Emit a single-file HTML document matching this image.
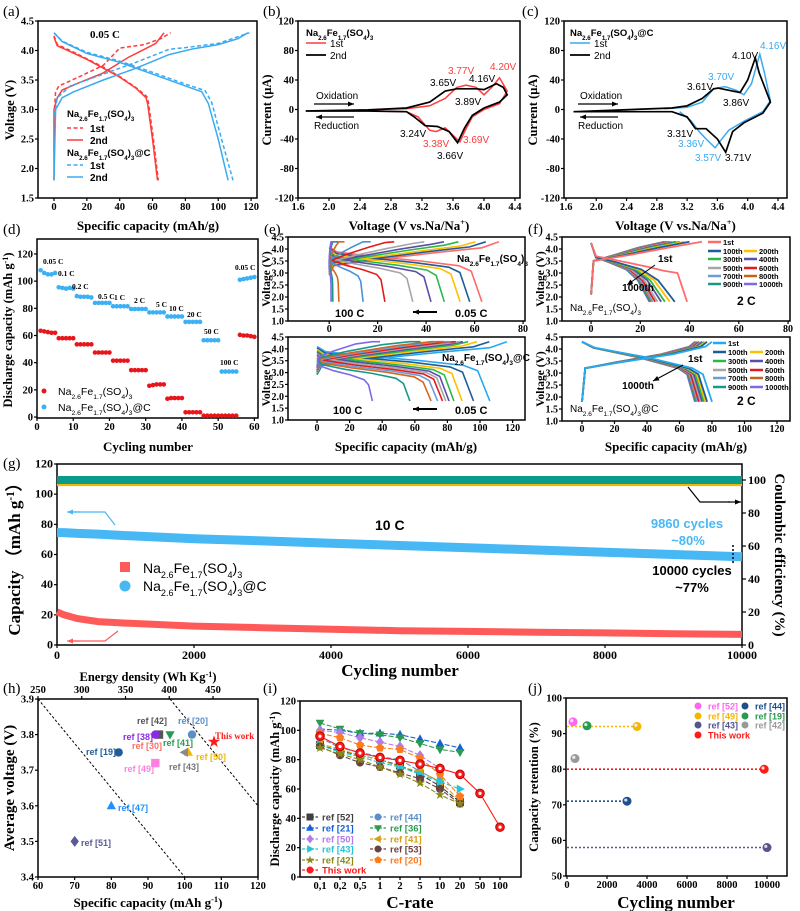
<!DOCTYPE html>
<html><head><meta charset="utf-8"><title>Na2.6Fe1.7(SO4)3 electrochemistry figure</title>
<style>
html,body{margin:0;padding:0;background:#fff;}
svg{display:block;}
text{font-family:"Liberation Serif",serif;}
.s{font-family:"Liberation Sans",sans-serif;}
</style></head>
<body>
<svg id="fig" width="800" height="911" viewBox="0 0 800 911" xmlns="http://www.w3.org/2000/svg"></svg>
<script>
// ---------------- DATA ----------------
const aRedCh1=[[0,2.9],[1,3.3],[3,3.4],[15,3.55],[30,3.75],[40,4.04],[55,4.1],[65,4.2],[71,4.3]];
const aRedCh2=[[0,1.8],[0,3.0],[2,3.2],[5,3.33],[15,3.45],[30,3.62],[45,3.88],[55,4.02],[62,4.12],[67,4.3]];
const aRedDis1=[[0,4.25],[2,4.1],[10,4.0],[20,3.86],[30,3.72],[40,3.56],[50,3.37],[56.5,3.22],[57.5,3.12],[60.5,2.5],[63.5,1.8]];
const aRedDis2=[[0,4.22],[2,4.08],[10,3.98],[20,3.85],[30,3.7],[40,3.55],[50,3.36],[56,3.2],[57,3.1],[60,2.5],[63,1.8]];
const aBlueCh1=[[0,2.9],[2,3.2],[10,3.4],[30,3.6],[50,3.8],[70,4.02],[80,4.05],[100,4.12],[119,4.3]];
const aBlueCh2=[[0,1.8],[1,3.0],[5,3.2],[12,3.3],[30,3.5],[50,3.7],[70,3.93],[85,4.03],[100,4.1],[112,4.2],[118,4.3]];
const aBlueDis1=[[0,4.3],[5,4.16],[20,3.97],[40,3.82],[60,3.63],[80,3.43],[92,3.32],[96,3.12],[102,2.5],[109,1.8]];
const aBlueDis2=[[0,4.3],[5,4.15],[20,3.95],[40,3.8],[60,3.6],[80,3.4],[90,3.3],[94,3.1],[100,2.5],[106,1.8]];
const bCycle2=[[1.7,-2],[2.5,-0.5],[3.0,2],[3.3,10],[3.5,25],[3.65,28],[3.9,28],[4.0,27],[4.16,35],[4.25,30],[4.3,20],[4.2,10],[4.0,2],[3.85,-8],[3.75,-25],[3.66,-45],[3.55,-30],[3.4,-23],[3.24,-22],[3.1,-10],[3.0,-3],[2.5,-2],[1.7,-2]];
const bCycle1=[[2.6,0],[3.0,1],[3.3,5],[3.5,15],[3.65,30],[3.77,33],[3.9,30],[4.0,20],[4.1,30],[4.2,43],[4.3,25],[4.2,8],[4.0,0],[3.85,-10],[3.75,-30],[3.69,-44],[3.6,-35],[3.5,-25],[3.38,-30],[3.3,-28],[3.15,-10],[3.0,-3],[2.6,-2]];
const cCycle1=[[2.9,1],[3.2,3],[3.4,10],[3.55,28],[3.7,31],[3.85,26],[3.95,20],[4.05,35],[4.16,75],[4.22,50],[4.3,12],[4.2,-3],[3.95,-16],[3.75,-28],[3.62,-45],[3.57,-52],[3.45,-40],[3.36,-30],[3.25,-15],[3.1,-3]];
const cCycle2=[[1.7,-3],[3.0,2],[3.2,5],[3.4,15],[3.55,28],[3.61,29],[3.8,25],[3.9,23],[4.0,40],[4.1,70],[4.15,50],[4.3,10],[4.2,-5],[3.95,-18],[3.8,-30],[3.71,-58],[3.6,-40],[3.45,-26],[3.31,-26],[3.2,-10],[3.0,-3],[1.7,-3]];
const dCycles=[1,2,3,4,5,6,7,8,9,10,11,12,13,14,15,16,17,18,19,20,21,22,23,24,25,26,27,28,29,30,31,32,33,34,35,36,37,38,39,40,41,42,43,44,45,46,47,48,49,50,51,52,53,54,55,56,57,58,59,60];
const dBlue=[108,106,105,105,106,95.5,95,94.5,95,94.5,89,88.5,88.5,88.5,88,84,84,84,84,84,81.5,81.5,81.5,81.5,81.5,79.5,79.5,79.5,79.5,79.5,77,77,77,77,77,74,74,74,74,74,70,70,70,70,70,56.5,56.5,56.5,56.5,56.5,33.5,33.5,33.5,33.5,33.5,101,101.5,102,102.5,103];
const dRed=[63.5,63,62.5,62,62,58,58,58,58,58,53.5,53.5,53.5,53.5,53.5,47.5,47.5,47.5,47.5,47.5,41.5,41.5,41.5,41.5,41.5,34.5,34.5,34.5,34.5,34.5,23,23.5,24,24,24,13.5,14,14,14,14,3.5,3.5,3.5,3.5,3.5,1,1,1,1,1,1,1,1,1,1,60.5,60,60,59.5,59];
const dRateLabels=['0.05 C','0.1 C','0.2 C','0.5 C','1 C','2 C','5 C','10 C','20  C','50  C','100  C','0.05 C'];
const eTopCap=[63,58,54,47.5,42,34.5,23,14,4,1.5,0.8];
const eBotCap=[106,96,89,84,81,79,77,74,70,57,34];
const fLabels=['1st','100th','200th','300th','400th','500th','600th','700th','800th','900th','1000th'];
const fTopCap=[39,34,32,30,28.5,27,26,25,24.5,24,23.7];
const fBotCap=[80,77,76,75,74,73,72,71,70.5,70,69.5];
const gCycles=[0,100,300,600,1000,2000,3000,4000,5000,6000,7000,8000,9000,10000];
const gBlue=[74.5,74.5,74,73.5,72.5,70.5,69,67.5,66,64.5,63,61.5,60,58.5];
const gRed=[22,20,17.5,15.5,14.5,12.5,11.5,10.5,9.5,9,8.5,8,7.5,7];
const gCE=[100,100,100,100,100,100,100,100,100,100,100,100,100,100];
const gCE2=[97.5,97.5,97.5,97.5,97.5,97.5,97.5,97.5,97.5,97.5,97.5,97.5,97.5,97.5];
const hRefs=['ref [42]','ref [38]','ref [20]','ref [41]','This work','ref [19]','ref [50]','ref [43]','ref [49]','ref [47]','ref [51]'];
const hCap=[93,92,102,96,108,82,101,100,92,80,70];
const hVolt=[3.8,3.8,3.8,3.8,3.78,3.75,3.75,3.75,3.72,3.6,3.5];
const iRates=['0.1','0.2','0.5','1','2','5','10','20','50','100'];
const iNames=['ref [52]','ref [44]','ref [21]','ref [36]','ref [50]','ref [41]','ref [43]','ref [53]','ref [42]','ref [20]','This work'];
const iVals=[
 [90,86,83,80,76,70,62,51],
 [95,88,85,82,80,72,65],
 [101,100,98,98,97,94,91,88],
 [105,101,98,97,95,91,87,85],
 [100,98.5,95,92,89,83,74],
 [91,87,83,80,75,72,65,52],
 [90,85,82,78,75,70,65,60],
 [89,83,78,75,71,67,60,50],
 [88,84,80,75,70,64,56,50],
 [98,95,90,88,87,81,70,55],
 [96,89,84.5,81.5,79.5,77,74,70,57,34]
];
const jNames=['ref [52]','ref [44]','ref [49]','ref [19]','ref [43]','ref [42]','This work'];
const jCycles=[300,3000,3500,1000,10000,400,9860];
const jRet=[93.3,71,92,92.2,58,83,80];

// ---------------- HELPERS ----------------
const NS='http://www.w3.org/2000/svg';
const svg=document.getElementById('fig');
function mk(tag,name,attrs,parent){
  const e=document.createElementNS(NS,tag);
  for(const k in attrs) e.setAttribute(k,attrs[k]);
  
  
  (parent||svg).appendChild(e);
  return e;
}
function txt(name,x,y,str,o){
  o=o||{};
  const t=mk('text',name,{x:x,y:y,'font-size':o.size||11,'font-weight':o.weight||'normal',fill:o.fill||'#000','text-anchor':o.anchor||'start'},o.parent);
  if(o.sans) t.setAttribute('class','s');
  if(o.rot) t.setAttribute('transform','rotate('+o.rot+' '+x+' '+y+')');
  const re=/_\{([^}]*)\}|\^\{([^}]*)\}/g; let last=0,m;
  while((m=re.exec(str))){
    if(m.index>last){const s=document.createElementNS(NS,'tspan');s.textContent=str.slice(last,m.index);t.appendChild(s);}
    const s=document.createElementNS(NS,'tspan');
    s.textContent=m[1]!==undefined?m[1]:m[2];
    s.setAttribute('font-size',(o.size||11)*0.65);
    s.setAttribute('baseline-shift',m[1]!==undefined?'sub':'super');
    t.appendChild(s); last=re.lastIndex;
  }
  if(last<str.length){const s=document.createElementNS(NS,'tspan');s.textContent=str.slice(last);t.appendChild(s);}
  return t;
}
function lin(d0,d1,p0,p1){return v=>p0+(v-d0)*(p1-p0)/(d1-d0);}
function axes(o){
  const g=mk('g',o.name,{});
  const sx=o.sx||lin(o.xd[0],o.xd[1],o.x0,o.x1);
  const sy=lin(o.yd[0],o.yd[1],o.y1,o.y0);
  mk('rect',o.name+'-frame',{x:o.x0,y:o.y0,width:o.x1-o.x0,height:o.y1-o.y0,fill:'none',stroke:'#000','stroke-width':1.5},g);
  (o.xt||[]).forEach((v,i)=>{const X=sx(v);
    mk('line','x-tick',{x1:X,x2:X,y1:o.y1,y2:o.y1+3,stroke:'#000','stroke-width':1.2},g);
    if(o.xl!==false) txt('x-tick-label',X,o.y1+(o.xly||12),o.xf?o.xf(v,i):String(v),{anchor:'middle',weight:'bold',size:o.tsz||10.5,parent:g});});
  (o.yt||[]).forEach(v=>{const Y=sy(v);
    mk('line','y-tick',{x1:o.x0-3,x2:o.x0,y1:Y,y2:Y,stroke:'#000','stroke-width':1.2},g);
    txt('y-tick-label',o.x0-4,Y+3.5,o.yf?o.yf(v):String(v),{anchor:'end',weight:'bold',size:o.tsz||10.5,parent:g});});
  return {sx,sy,g};
}
function path(name,pts,sx,sy,attrs,parent){
  const d=pts.map((p,i)=>(i?'L':'M')+sx(p[0]).toFixed(1)+' '+sy(p[1]).toFixed(1)).join('');
  const a=Object.assign({d:d,fill:'none'},attrs);
  return mk('path',name,a,parent);
}
function arrowLine(name,x1,y1,x2,y2,col,w){
  const g=mk('g',name,{});
  mk('line','arrow-shaft',{x1:x1,y1:y1,x2:x2,y2:y2,stroke:col,'stroke-width':w||1.2},g);
  const a=Math.atan2(y2-y1,x2-x1),L=6,W=2.5;
  const p=[[x2,y2],[x2-L*Math.cos(a)+W*Math.sin(a),y2-L*Math.sin(a)-W*Math.cos(a)],[x2-L*Math.cos(a)-W*Math.sin(a),y2-L*Math.sin(a)+W*Math.cos(a)]];
  mk('polygon','arrow-head',{points:p.map(q=>q.join(',')).join(' '),fill:col},g);
}
const f1=v=>v.toFixed(1);
const RED='#ff3b3b', BLUE='#3aaaf0';
const NFS='Na_{2.6}Fe_{1.7}(SO_{4})_{3}', NFSC='Na_{2.6}Fe_{1.7}(SO_{4})_{3}@C';

[['a',3,16],['b',263,16],['c',522,16],['d',3,234],['e',264,234],['f',528,234],['g',3,468],['h',3,693],['i',263,693],['j',528,693]].forEach(p=>txt('panel-label-'+p[0],p[1],p[2],'('+p[0]+')',{size:15}));

// ---------------- (a) ----------------
{const A=axes({name:'panel-a',x0:38,x1:257,y0:21,y1:198,xd:[-9.74,123.6],yd:[1.5,4.5],xt:[0,20,40,60,80,100,120],yt:[1.5,2,2.5,3,3.5,4,4.5],yf:f1});
 const s={stroke:RED,'stroke-width':1.5}, sd={stroke:RED,'stroke-width':1.5,'stroke-dasharray':'4,2.5'};
 const b={stroke:BLUE,'stroke-width':1.5}, bd={stroke:BLUE,'stroke-width':1.5,'stroke-dasharray':'4,2.5'};
 path('red-charge-1st',aRedCh1,A.sx,A.sy,sd,A.g); path('red-discharge-1st',aRedDis1,A.sx,A.sy,sd,A.g);
 path('red-charge-2nd',aRedCh2,A.sx,A.sy,s,A.g); path('red-discharge-2nd',aRedDis2,A.sx,A.sy,s,A.g);
 path('blue-charge-1st',aBlueCh1,A.sx,A.sy,bd,A.g); path('blue-discharge-1st',aBlueDis1,A.sx,A.sy,bd,A.g);
 path('blue-charge-2nd',aBlueCh2,A.sx,A.sy,b,A.g); path('blue-discharge-2nd',aBlueDis2,A.sx,A.sy,b,A.g);
 txt('rate-label',90,38,'0.05 C',{size:11,weight:'bold'});
 txt('legend-title-pristine',67,117,NFS,{size:9.5,weight:'bold',sans:true});
 mk('line','legend-red-1st',{x1:67,x2:83,y1:128,y2:128,stroke:RED,'stroke-width':1.5,'stroke-dasharray':'4,2.5'});
 txt('legend-text',90,132,'1st',{size:10,weight:'bold',sans:true});
 mk('line','legend-red-2nd',{x1:67,x2:83,y1:140,y2:140,stroke:RED,'stroke-width':1.5});
 txt('legend-text',90,144,'2nd',{size:10,weight:'bold',sans:true});
 txt('legend-title-carbon',67,156,NFSC,{size:9.5,weight:'bold',sans:true});
 mk('line','legend-blue-1st',{x1:67,x2:83,y1:165,y2:165,stroke:BLUE,'stroke-width':1.5,'stroke-dasharray':'4,2.5'});
 txt('legend-text',90,169,'1st',{size:10,weight:'bold',sans:true});
 mk('line','legend-blue-2nd',{x1:67,x2:83,y1:177,y2:177,stroke:BLUE,'stroke-width':1.5});
 txt('legend-text',90,181,'2nd',{size:10,weight:'bold',sans:true});
 txt('y-axis-title',14,110,'Voltage (V)',{size:12.5,weight:'bold',anchor:'middle',rot:-90});
 txt('x-axis-title',148,230,'Specific capacity (mAh/g)',{size:13,weight:'bold',anchor:'middle'});
}
// ---------------- (b),(c) ----------------
function cvPanel(id,x0,x1,xd,c1,c1col,c2,title,labels,ox){
  const B=axes({name:'panel-'+id,x0:x0,x1:x1,y0:21,y1:198,xd:xd,yd:[-120,120],xt:[1.6,2,2.4,2.8,3.2,3.6,4,4.4],xf:v=>v.toFixed(1),yt:[-120,-80,-40,0,40,80,120]});
  path('cv-cycle-1st',c1,B.sx,B.sy,{stroke:c1col,'stroke-width':1.5},B.g);
  path('cv-cycle-2nd',c2,B.sx,B.sy,{stroke:'#000','stroke-width':1.7},B.g);
  txt('legend-title',ox,36,title,{size:9.5,weight:'bold',sans:true});
  mk('line','legend-1st',{x1:ox,x2:ox+20,y1:43,y2:43,stroke:c1col,'stroke-width':1.5});
  txt('legend-text',ox+24,47,'1st',{size:10,sans:true});
  mk('line','legend-2nd',{x1:ox,x2:ox+20,y1:55,y2:55,stroke:'#000','stroke-width':1.7});
  txt('legend-text',ox+24,59,'2nd',{size:10,sans:true});
  txt('oxidation-label',ox+10,99,'Oxidation',{size:10,sans:true});
  arrowLine('oxidation-arrow',ox+8,104,ox+48,104,'#000',1.3);
  arrowLine('reduction-arrow',ox+48,117,ox+10,117,'#000',1.3);
  txt('reduction-label',ox+8,129,'Reduction',{size:10,sans:true});
  labels.forEach(l=>txt('peak-label',l[0],l[1],l[2],{size:10,sans:true,fill:l[3]}));
  txt('y-axis-title',x0-27,110,'Current (μA)',{size:12.5,weight:'bold',anchor:'middle',rot:-90});
  txt('x-axis-title',(x0+x1)/2,230,'Voltage (V vs.Na/Na^{+})',{size:13,weight:'bold',anchor:'middle'});
}
cvPanel('b',298,520,[1.6,4.465],bCycle1,RED,bCycle2,NFS,[[448,74,'3.77V',RED],[490,70,'4.20V',RED],[430,86,'3.65V','#000'],[469,82,'4.16V','#000'],[455,105,'3.89V','#000'],[400,137,'3.24V','#000'],[423,147,'3.38V',RED],[463,143,'3.69V',RED],[437,159,'3.66V','#000']],306);
cvPanel('c',564,787,[1.574,4.519],cCycle1,BLUE,cCycle2,NFSC,[[760,49,'4.16V',BLUE],[732,59,'4.10V','#000'],[708,80,'3.70V',BLUE],[687,90,'3.61V','#000'],[723,106,'3.86V','#000'],[667,137,'3.31V','#000'],[678,147,'3.36V',BLUE],[695,161,'3.57V',BLUE],[725,161,'3.71V','#000']],570);

// ---------------- (d) ----------------
{const D=axes({name:'panel-d',x0:37,x1:258,y0:239,y1:418,xd:[0,61],yd:[-0.7,131],xt:[0,10,20,30,40,50,60],yt:[0,20,40,60,80,100,120]});
 dCycles.forEach((c,i)=>{
  mk('circle','point-pristine',{cx:D.sx(c),cy:D.sy(dRed[i]),r:2.3,fill:'#e8161b'},D.g);
  mk('circle','point-carbon',{cx:D.sx(c),cy:D.sy(dBlue[i]),r:2.3,fill:'#3ab0f5'},D.g);
 });
 const lp=[[43,264],[58,276],[72,289],[98,299],[114,300],[134,303],[156,307],[169,311],[187,317],[204,334],[220,365],[235,270]];
 dRateLabels.forEach((l,i)=>txt('rate-label',lp[i][0],lp[i][1],l,{size:7.5,weight:'bold'}));
 mk('circle','legend-marker-pristine',{cx:44,cy:391,r:2.5,fill:'#e8161b'});
 txt('legend-text',58,395,NFS,{size:10.5,sans:true});
 mk('circle','legend-marker-carbon',{cx:44,cy:407,r:2.5,fill:'#3ab0f5'});
 txt('legend-text',58,411,NFSC,{size:10.5,sans:true});
 txt('y-axis-title',12,330,'Discharge capacity (mAh g^{-1})',{size:12.5,weight:'bold',anchor:'middle',rot:-90});
 txt('x-axis-title',148,451,'Cycling number',{size:13,weight:'bold',anchor:'middle'});
}
// ---------------- (e) ----------------
const eCols=['#ff6b6b','#1f5c99','#ffc000','#2bb84a','#5a4fa6','#a6a6a6','#e31a1c','#4a8fd8','#d2691e','#16998a','#7e6ae6'];
const eColsB=['#27a9f0','#1f5c99','#ffc000','#2bb84a','#5a4fa6','#a6a6a6','#e31a1c','#6f9ad8','#d2691e','#16998a','#7e6ae6'];
const disT=[[0,0.3],[0.05,0.08],[0.3,-0.12],[0.6,-0.3],[0.85,-0.5],[0.93,-0.72],[1,-2]];
const chT=[[0,-0.9],[0.03,-0.5],[0.3,-0.25],[0.7,0.05],[1,0.25],[1.08,0.5]];
function ePanel(name,x0,x1,y0,y1,xd,xt,caps,cols,tlabel,tlx,tly){
  const E=axes({name:name,x0:x0,x1:x1,y0:y0,y1:y1,xd:xd,yd:[1,4.5],xt:xt,yt:[1,1.5,2,2.5,3,3.5,4,4.5],yf:f1,xly:11,tsz:10});
  caps.forEach((c,k)=>{const pol=k*0.06;
    path('discharge-curve',disT.map(p=>[p[0]*c,Math.max(1.8,3.8+p[1]-pol)]),E.sx,E.sy,{stroke:cols[k],'stroke-width':1.6},E.g);
    path('charge-curve',chT.map(p=>[p[0]*c+(p[0]>1?2:0),Math.min(4.3,3.8+p[1]+pol*0.6)]),E.sx,E.sy,{stroke:cols[k],'stroke-width':1.6},E.g);
  });
  txt('material-label',tlx,tly,tlabel,{size:10,weight:'bold',sans:true});
  txt('y-axis-title',x0-18,(y0+y1)/2,'Voltage (V)',{size:11.5,weight:'bold',anchor:'middle',rot:-90});
  return E;
}
ePanel('panel-e-top',288,525,237,321,[-17,80.8],[0,20,40,60,80],eTopCap,eCols,NFS,457,262);
txt('rate-label',335,317,'100 C',{size:11,weight:'bold',sans:true});txt('rate-label',455,317,'0.05 C',{size:11,weight:'bold',sans:true});
arrowLine('rate-arrow',437,312,413,312,'#000',2);
ePanel('panel-e-bottom',288,525,337,420,[-17.8,127.6],[0,20,40,60,80,100,120],eBotCap,eColsB,NFSC,442,361);
txt('rate-label',333,414,'100 C',{size:11,weight:'bold',sans:true});txt('rate-label',455,414,'0.05 C',{size:11,weight:'bold',sans:true});
arrowLine('rate-arrow',437,409,413,409,'#000',2);
txt('x-axis-title',406,451,'Specific capacity (mAh/g)',{size:13,weight:'bold',anchor:'middle'});
txt('x-axis-title',676,451,'Specific capacity (mAh/g)',{size:13,weight:'bold',anchor:'middle'});

// ---------------- (f) ----------------
const fColsT=['#ff6b6b','#1f5c99','#ffc000','#2bb84a','#5a4fa6','#a6a6a6','#e31a1c','#6f9ad8','#c0651a','#16998a','#7e6ae6'];
const fColsB=['#27a9f0','#1f5c99','#ffc000','#2bb84a','#5a4fa6','#a6a6a6','#e31a1c','#6f9ad8','#c0651a','#16998a','#7e6ae6'];
function fPanel(name,x0,x1,y0,y1,xd,xt,caps,cols,top){
  const F=axes({name:name,x0:x0,x1:x1,y0:y0,y1:y1,xd:xd,yd:[1,4.5],xt:xt,yt:[1,1.5,2,2.5,3,3.5,4,4.5],yf:f1,xly:11,tsz:10});
  caps.slice().reverse().forEach((c,kk)=>{const k=caps.length-1-kk;
    let dis,ch;
    if(top){
      dis=k===0?[[0,4.25],[2,3.7],[c*0.3,3.5],[c*0.6,3.25],[c*0.75,3.1],[c*0.9,3.0],[c,1.8]]:[[0,4.25],[2,3.65],[c*0.3,3.45],[c*0.6,3.15],[c*0.8,2.7],[c,1.8]];
      ch=[[0,2.1],[1,3.5],[c*0.4,3.75],[c*0.8,4.05],[c+6,4.3]];
    }else{
      dis=[[0,4.3],[c*0.1,4.05],[c*0.5,3.65],[c*0.85,3.2],[c*0.93,2.95],[c,1.8]];
      ch=[[0,1.8],[2,3.2],[c*0.3,3.45],[c*0.7,3.78],[c*0.95,4.1],[c,4.3]];
    }
    path('discharge-curve',dis,F.sx,F.sy,{stroke:cols[k],'stroke-width':1.8},F.g);
    path('charge-curve',ch,F.sx,F.sy,{stroke:cols[k],'stroke-width':1.8},F.g);
  });
  txt('y-axis-title',x0-18,(y0+y1)/2,'Voltage (V)',{size:11.5,weight:'bold',anchor:'middle',rot:-90});
  return F;
}
fPanel('panel-f-top',562,790,237,321,[-11.8,80.8],[0,20,40,60,80],fTopCap,fColsT,true);
fPanel('panel-f-bottom',562,790,337,421,[-12.3,128],[0,20,40,60,80,100,120],fBotCap,fColsB,false);
function fLegend(ys,c1x,c2x,cols){
  fLabels.forEach((l,i)=>{
    const row=i===0?0:Math.ceil(i/2), col=i===0?0:((i-1)%2);
    const x=col?c2x:c1x, y=ys[row];
    mk('line','legend-line',{x1:x,x2:x+13,y1:y,y2:y,stroke:cols[i],'stroke-width':2.5});
    txt('legend-text',x+15,y+3,l,{size:7.5,weight:'bold',sans:true});
  });
}
fLegend([242,251,259,268,276,284],708,744,fColsT);
fLegend([343,352,361,370,378,387],713,750,fColsB);
txt('cycle-label',658,262,'1st',{size:10,weight:'bold',sans:true});
txt('cycle-label',638,291,'1000th',{size:10,weight:'bold',sans:true,anchor:'middle'});
arrowLine('cycle-arrow',655,265,627,285,'#000',1);
txt('rate-label',737,305,'2 C',{size:12,weight:'bold',sans:true});
txt('material-label',570,311,NFS,{size:10,sans:true});
txt('cycle-label',688,362,'1st',{size:10,weight:'bold',sans:true});
txt('cycle-label',638,389,'1000th',{size:10,weight:'bold',sans:true,anchor:'middle'});
arrowLine('cycle-arrow',683,365,653,381,'#000',1);
txt('rate-label',737,405,'2 C',{size:12,weight:'bold',sans:true});
txt('material-label',570,412,NFSC,{size:10,sans:true});

// ---------------- (g) ----------------
{const G=axes({name:'panel-g',x0:57,x1:742,y0:464,y1:645,xd:[0,10000],yd:[0,120],xt:[0,2000,4000,6000,8000,10000],yt:[0,20,40,60,80,100,120],xly:14,tsz:12});
 const syR=lin(0,109.7,645,464);
 [0,20,40,60,80,100].forEach(v=>{const Y=syR(v);
   mk('line','right-y-tick',{x1:742,x2:746,y1:Y,y2:Y,stroke:'#000','stroke-width':1.2},G.g);
   txt('right-y-tick-label',748,Y+4,String(v),{size:12,weight:'bold',parent:G.g});});
 const z=gCycles.map((c,i)=>[c,gCE[i]]); const z2=gCycles.map((c,i)=>[c,gCE2[i]]);
 path('ce-pristine-band',z2,G.sx,syR,{stroke:'#f2b705','stroke-width':4},G.g);
 path('ce-carbon-band',z,G.sx,syR,{stroke:'#0b9b8a','stroke-width':8},G.g);
 path('capacity-carbon-band',gCycles.map((c,i)=>[c,gBlue[i]]),G.sx,G.sy,{stroke:'#48b8f5','stroke-width':9},G.g);
 path('capacity-pristine-band',gCycles.map((c,i)=>[c,gRed[i]]),G.sx,G.sy,{stroke:'#ff5a5a','stroke-width':7},G.g);
 mk('rect','legend-marker-pristine',{x:120,y:562,width:10,height:10,fill:'#ff5a5a'});
 txt('legend-text',143,573,NFS,{size:14,sans:true});
 mk('circle','legend-marker-carbon',{cx:125,cy:586,r:5.5,fill:'#48b8f5'});
 txt('legend-text',143,591,NFSC,{size:14,sans:true});
 txt('rate-label',375,530,'10 C',{size:14,weight:'bold',sans:true});
 mk('polyline','axis-arrow-carbon',{points:'115,525 105,512 72,512',fill:'none',stroke:'#48b8f5','stroke-width':1.2});
 arrowLine('axis-arrow-head',80,512,67,512,'#48b8f5',1.2);
 mk('polyline','axis-arrow-pristine',{points:'118,631 105,641 72,641',fill:'none',stroke:'#ff5a5a','stroke-width':1.2});
 arrowLine('axis-arrow-head',80,641,67,641,'#ff5a5a',1.2);
 mk('polyline','axis-arrow-ce',{points:'688,487 700,502 730,502',fill:'none',stroke:'#000','stroke-width':1.2});
 arrowLine('axis-arrow-head',728,502,741,502,'#000',1.2);
 txt('annotation-carbon',687,528,'9860 cycles',{size:13,weight:'bold',sans:true,anchor:'middle',fill:'#48b8f5'});
 txt('annotation-carbon',688,545,'~80%',{size:13,weight:'bold',sans:true,anchor:'middle',fill:'#48b8f5'});
 txt('annotation-black',692,575,'10000 cycles',{size:13,weight:'bold',sans:true,anchor:'middle'});
 txt('annotation-black',692,592,'~77%',{size:13,weight:'bold',sans:true,anchor:'middle'});
 mk('line','marker-dashed',{x1:733,x2:733,y1:545,y2:565,stroke:'#000','stroke-width':1.5,'stroke-dasharray':'2,2'});
 txt('y-axis-title',20,555,'Capacity （mAh g^{-1}）',{size:17,weight:'bold',anchor:'middle',rot:-90});
 txt('right-y-axis-title',775,555,'Coulombic efficiency (%)',{size:15,weight:'bold',anchor:'middle',rot:90});
 txt('x-axis-title',400,676,'Cycling number',{size:17,weight:'bold',anchor:'middle'});
}
// ---------------- (h) ----------------
const hCols=['#555555','#8a2be2','#5b8fc9','#2a9a50','#ff1a1a','#1f5c99','#f2b705','#8a8a8a','#ff7fe0','#1e90ff','#5a5a9a'];
const hMarks=['square','circle','circle','tridown','star','circle','triup','trileft','square','triup','diamond'];
function marker(name,shape,x,y,r,fill,parent,stroke){
  let e;
  const a={fill:fill}; if(stroke){a.stroke=stroke;a['stroke-width']=1;}
  if(shape==='circle'){a.cx=x;a.cy=y;a.r=r;e=mk('circle',name,a,parent);}
  else if(shape==='square'){a.x=x-r;a.y=y-r;a.width=2*r;a.height=2*r;e=mk('rect',name,a,parent);}
  else{let p;
   if(shape==='triup')p=[[x,y-r*1.2],[x+r*1.1,y+r*0.8],[x-r*1.1,y+r*0.8]];
   else if(shape==='tridown')p=[[x,y+r*1.2],[x+r*1.1,y-r*0.8],[x-r*1.1,y-r*0.8]];
   else if(shape==='trileft')p=[[x-r*1.2,y],[x+r*0.8,y-r*1.1],[x+r*0.8,y+r*1.1]];
   else if(shape==='triright')p=[[x+r*1.2,y],[x-r*0.8,y-r*1.1],[x-r*0.8,y+r*1.1]];
   else if(shape==='diamond')p=[[x,y-r*1.3],[x+r,y],[x,y+r*1.3],[x-r,y]];
   else if(shape==='pent'){p=[];for(let k=0;k<5;k++){const an=-Math.PI/2+k*2*Math.PI/5;p.push([x+r*1.1*Math.cos(an),y+r*1.1*Math.sin(an)]);}}
   else {p=[];for(let k=0;k<10;k++){const an=-Math.PI/2+k*Math.PI/5,rr=k%2?r*0.5:r*1.3;p.push([x+rr*Math.cos(an),y+rr*Math.sin(an)]);}}
   a.points=p.map(q=>q[0].toFixed(1)+','+q[1].toFixed(1)).join(' ');e=mk('polygon',name,a,parent);}
  return e;
}
{const H=axes({name:'panel-h',x0:38,x1:258,y0:699,y1:877,xd:[60,120],yd:[3.4,3.9],xt:[60,70,80,90,100,110,120],yt:[3.4,3.5,3.6,3.7,3.8,3.9],yf:f1,xly:12});
 const se=lin(250,450,38,213);
 [250,300,350,400,450].forEach(v=>{mk('line','top-x-tick',{x1:se(v),x2:se(v),y1:699,y2:696,stroke:'#000','stroke-width':1.2},H.g);
   txt('top-x-tick-label',se(v),693,String(v),{size:10.5,weight:'bold',anchor:'middle',parent:H.g});});
 path('energy-isoline',[[60,3.9],[100,3.4]],H.sx,H.sy,{stroke:'#000','stroke-width':1,'stroke-dasharray':'2.5,2'},H.g);
 path('energy-isoline',[[96,3.9],[120,3.6]],H.sx,H.sy,{stroke:'#000','stroke-width':1,'stroke-dasharray':'2.5,2'},H.g);
 hRefs.forEach((r,i)=>marker('point-'+r.replace(/[^a-z0-9]+/gi,'-').toLowerCase(),hMarks[i],H.sx(hCap[i]),H.sy(hVolt[i]),hMarks[i]==='star'?5:4.2,hCols[i],H.g));
 const hl=[['ref [42]',137,724,'#555'],['ref [20]',178,724,'#5b8fc9'],['This work',215,739,'#ff1a1a'],['ref [38]',123,740,'#8a2be2'],['ref [41]',163,746,'#2a9a50'],['ref [30]',132,749,'#ff6b6b'],['ref [19]',86,755,'#1f5c99'],['ref [50]',196,760,'#f2b705'],['ref [49]',124,772,'#ff7fe0'],['ref [43]',169,770,'#777'],['ref [47]',118,811,'#1e90ff'],['ref [51]',81,846,'#5a5a9a']];
 hl.forEach(l=>txt('point-label',l[1],l[2],l[0],{size:9,weight:'bold',sans:l[0]!=='This work',fill:l[3]}));
 txt('top-x-axis-title',148,681,'Energy density (Wh Kg^{-1})',{size:12.5,weight:'bold',anchor:'middle'});
 txt('y-axis-title',14,788,'Average voltage (V)',{size:15,weight:'bold',anchor:'middle',rot:-90});
 txt('x-axis-title',148,907,'Specific capacity (mAh g^{-1})',{size:13,weight:'bold',anchor:'middle'});
}
// ---------------- (i) ----------------
const iCols=['#404040','#5b8fc9','#1560d8','#2a9a50','#b17de8','#d4a017','#22c6d6','#6b4040','#8a8a1a','#ff7a1a','#ff1a1a'];
const iMarks=['square','circle','triup','tridown','diamond','trileft','triright','circle','star','pent','circle'];
{const sxi=i=>320+20*i;
 const I=axes({name:'panel-i',x0:300,x1:521,y0:701,y1:877,sx:sxi,xd:[0,1],yd:[0,120],xt:iRates.map((r,i)=>i),xf:(v,i)=>iRates[i].replace('.',','),yt:[0,20,40,60,80,100,120],xly:12});
 iVals.forEach((vals,s)=>{
  const me=s===10;
  path('series-line',vals.map((v,i)=>[i,v]),sxi,I.sy,{stroke:iCols[s],'stroke-width':1.1,'stroke-dasharray':me?'none':'5,2'},I.g);
  vals.forEach((v,i)=>{marker('series-point',iMarks[s],sxi(i),I.sy(v),me?4.3:4,iCols[s],I.g,me?'#b00':null);
    if(me){mk('circle','series-point-highlight',{cx:sxi(i),cy:I.sy(v),r:1.6,fill:'#fff'},I.g);}});
 });
 const rows=[817,828,839,849,860,870];
 iNames.forEach((n,s)=>{const col=s===10?0:s%2,row=s===10?5:Math.floor(s/2);
   const x=col?378:310,y=rows[row];
   mk('line','legend-line',{x1:x-8,x2:x+8,y1:y,y2:y,stroke:iCols[s],'stroke-width':1.2,'stroke-dasharray':'3,1.5'});
   marker('legend-marker',iMarks[s],x,y,3.5,iCols[s]);
   txt('legend-text',x+12,y+3.5,n,{size:9.5,weight:'bold',sans:true,fill:iCols[s]});});
 txt('y-axis-title',279,789,'Discharge capacity (mAh g^{-1})',{size:12.5,weight:'bold',anchor:'middle',rot:-90});
 txt('x-axis-title',410,908,'C-rate',{size:17,weight:'bold',anchor:'middle'});
}
// ---------------- (j) ----------------
const jCols=['#ff66ee','#1f4f8f','#f2b705','#2a9a50','#55558f','#999999','#ff1a1a'];
const jLine=[false,true,true,false,true,false,true];
{const J=axes({name:'panel-j',x0:566,x1:787,y0:698,y1:876,xd:[-50,11000],yd:[50,100],xt:[0,2000,4000,6000,8000,10000],yt:[50,60,70,80,90,100],xly:12});
 jNames.forEach((n,i)=>{
  if(jLine[i]) path('retention-guide',[[0,jRet[i]],[jCycles[i],jRet[i]]],J.sx,J.sy,{stroke:jCols[i],'stroke-width':1.6,'stroke-dasharray':'2,2'},J.g);
  marker('retention-point','circle',J.sx(jCycles[i]),J.sy(jRet[i]),4.5,jCols[i],J.g);
  mk('circle','retention-point-highlight',{cx:J.sx(jCycles[i])-1.2,cy:J.sy(jRet[i])-1.2,r:1.6,fill:'#fff',opacity:0.8},J.g);
 });
 const order=[[0,698,706],[1,745,706],[2,698,716],[3,745,716],[4,698,725],[5,745,725],[6,698,735]];
 order.forEach(o=>{const i=o[0];mk('circle','legend-marker',{cx:o[1],cy:o[2],r:3.5,fill:jCols[i]});
   txt('legend-text',o[1]+10,o[2]+3.5,jNames[i],{size:9,weight:'bold',sans:true,fill:jCols[i]});});
 txt('y-axis-title',538,787,'Caapacity retention (%)',{size:12.5,weight:'bold',anchor:'middle',rot:-90});
 txt('x-axis-title',676,908,'Cycling number',{size:17,weight:'bold',anchor:'middle'});
}
</script>
</body></html>
